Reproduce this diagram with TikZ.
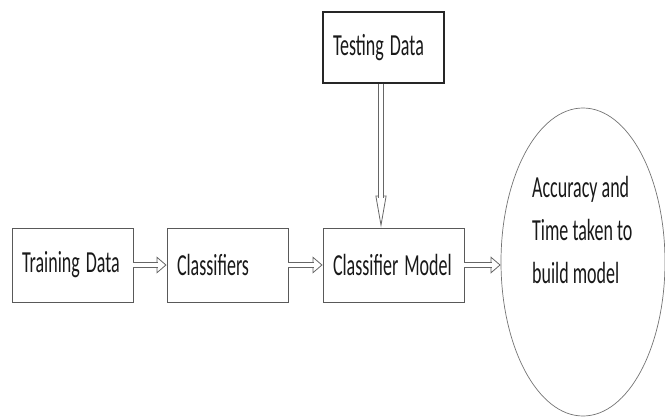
\documentclass[tikz,border=0pt]{standalone}
\usepackage{fontspec}
\usepackage{graphicx}
\setmainfont{Carlito}
\usetikzlibrary{arrows.meta,shapes.geometric}
\newcommand\tallt[1]{\scalebox{1}[1.7]{#1}}
\tikzset{
  boxnode/.style={draw=black!65, line width=0.9pt, rectangle, inner xsep=10pt, inner ysep=0pt, align=left, font=\fontsize{18}{20}\selectfont, text=black!90},
  headh/.style={draw=black!60, line width=0.8pt, -{Triangle[open, length=10pt, width=17pt]}},
  shafth/.style={draw=black!60, line width=0.8pt, double, double distance=4.5pt, shorten >=9pt},
  headv/.style={draw=black!60, line width=0.8pt, -{Triangle[open, length=32pt, width=11pt]}},
  shaftv/.style={draw=black!60, line width=0.8pt, double, double distance=4pt, shorten >=30pt},
}
\begin{document}
\begin{tikzpicture}[x=1pt,y=-1pt]
\useasboundingbox (0,0) rectangle (665,416);
\node[boxnode, text width=101pt, minimum height=74pt] (train) at (72.5,265) {\tallt{Training Data}};
\node[boxnode, text width=101pt, minimum height=74pt] (cls) at (227.5,265) {\tallt{Classifiers}};
\node[boxnode, text width=121pt, minimum height=74pt] (model) at (393.5,265) {\tallt{Classifier Model}};
\node[boxnode, draw=black!85, line width=1.2pt, text width=101pt, minimum height=71pt] (test) at (383.5,47.5) {\tallt{Testing Data}};
\node[draw=black!55, line width=0.7pt, ellipse, minimum width=164pt, minimum height=308pt, inner sep=0pt] (out) at (583,262) {};
\node[anchor=north west, inner sep=0pt, align=left, font=\fontsize{18}{43}\selectfont, text=black!90] (outtext) at (532,176) {\tallt{Accuracy and}\\\tallt{Time taken to}\\\tallt{build model}};
\foreach \a/\b in {train/cls, cls/model, model/out} {
  \draw[headh] (\a.east |- 0,265) -- (\b.west |- 0,265);
  \draw[shafth] (\a.east |- 0,265) -- (\b.west |- 0,265);
}
\draw[headv] ([xshift=-2.5pt]test.south) -- ([xshift=-2.5pt]test.south |- model.north);
\draw[shaftv] ([xshift=-2.5pt]test.south) -- ([xshift=-2.5pt]test.south |- model.north);
\end{tikzpicture}
\end{document}
